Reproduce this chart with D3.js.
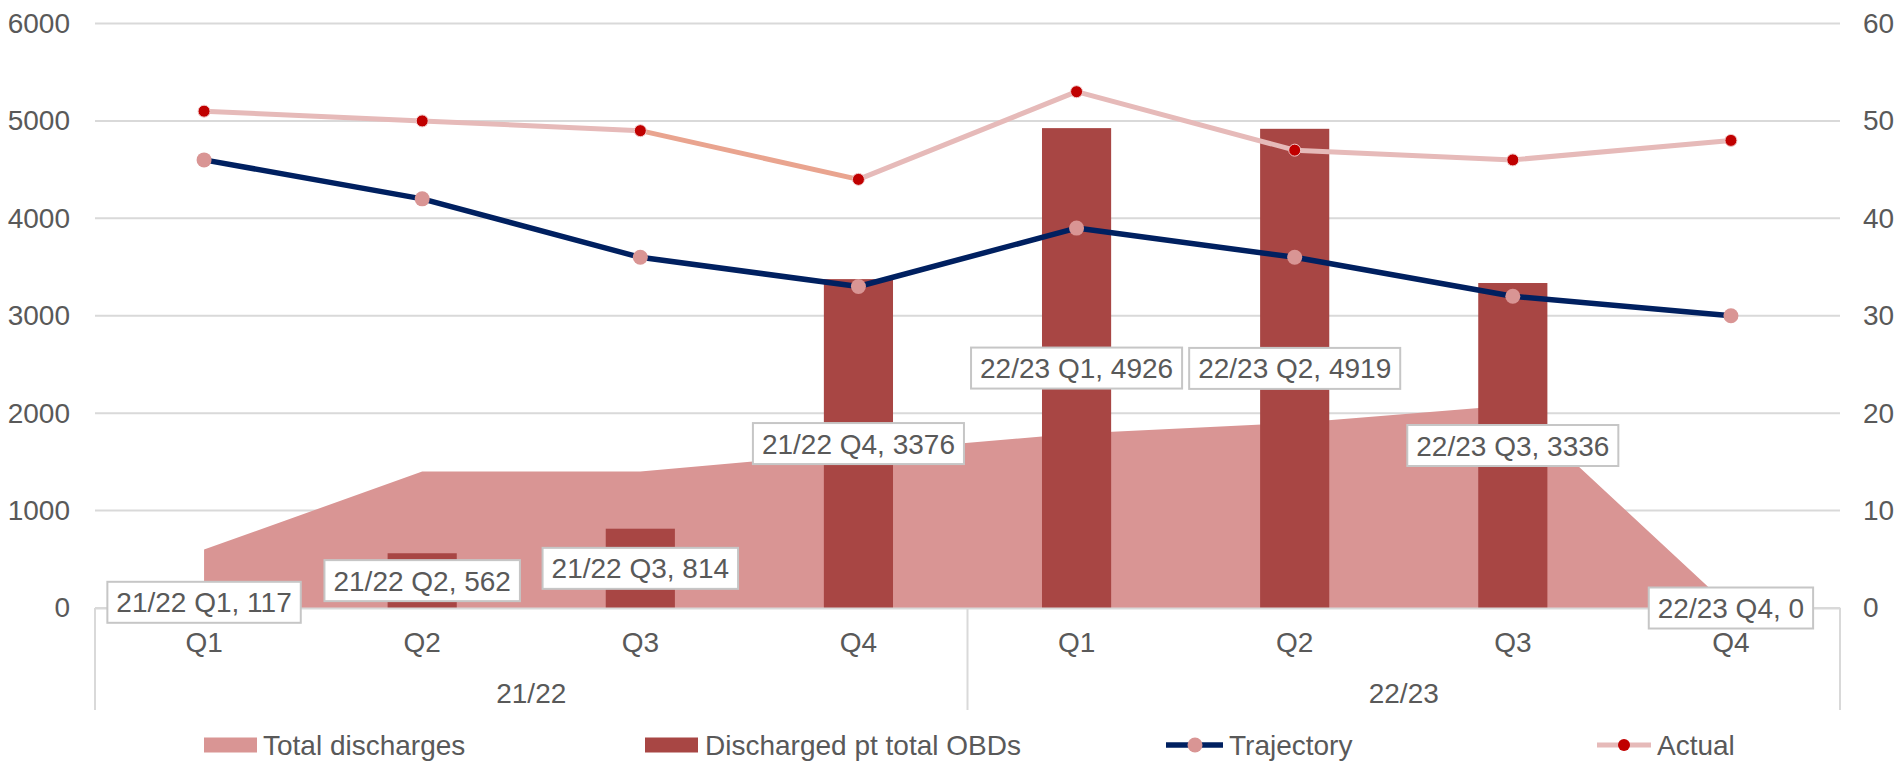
<!DOCTYPE html>
<html>
<head>
<meta charset="utf-8">
<script src="https://cdn.jsdelivr.net/npm/d3@7"></script>
<style>
  body { margin: 0; background: #fff; }
  svg text { font-family: "Liberation Sans", Arial, sans-serif; fill: #595959; }
</style>
</head>
<body>
<script>
var years = ["21/22", "22/23"];
var quarters = ["Q1", "Q2", "Q3", "Q4"];
var totalDischarges = [600, 1400, 1400, 1600, 1790, 1900, 2080, 0];
var dischargedOBDs = [117, 562, 814, 3376, 4926, 4919, 3336, 0];
var trajectory = [46, 42, 36, 33, 39, 36, 32, 30];
var actual = [51, 50, 49, 44, 53, 47, 46, 48];
var leftTicks = [0, 1000, 2000, 3000, 4000, 5000, 6000];
var rightTicks = [0, 10, 20, 30, 40, 50, 60];
var seriesNames = ["Total discharges", "Discharged pt total OBDs", "Trajectory", "Actual"];

var width = 1903,
    height = 765,
    plotLeft = 95,
    plotRight = 1840,
    plotTop = 23.5,
    plotBottom = 608;

var categories = [];
years.forEach(function(y) {
  quarters.forEach(function(q) { categories.push({year: y, q: q, key: y + " " + q}); });
});

var areaColor = "#D99594",
    barColor = "#A84644",
    navy = "#002060",
    actualLine = "#E6BAB9",
    actualAlt = "#E9A48F",
    actualDot = "#C00000",
    grid = "#D9D9D9";

var svg = d3.select("body").append("svg")
    .attr("width", width)
    .attr("height", height);

var x = d3.scaleBand()
    .domain(categories.map(function(d) { return d.key; }))
    .range([plotLeft, plotRight])
    .padding(0);

var xYear = d3.scaleBand()
    .domain(years)
    .range([plotLeft, plotRight]);

var yLeft = d3.scaleLinear().domain([0, 6000]).range([plotBottom, plotTop]);
var yRight = d3.scaleLinear().domain([0, 60]).range([plotBottom, plotTop]);

var cx = function(i) { return x(categories[i].key) + x.bandwidth() / 2; };
var barW = x.bandwidth() * 0.317;

// gridlines
svg.append("g")
  .selectAll("line")
  .data(leftTicks)
  .enter().append("line")
    .attr("x1", plotLeft)
    .attr("x2", plotRight)
    .attr("y1", function(d) { return yLeft(d); })
    .attr("y2", function(d) { return yLeft(d); })
    .attr("stroke", grid)
    .attr("stroke-width", 2);

var axL = svg.append("g")
    .attr("transform", "translate(" + plotLeft + ",0)")
    .call(d3.axisLeft(yLeft).tickValues(leftTicks).tickSize(0).tickPadding(25).tickFormat(d3.format("d")));
var axR = svg.append("g")
    .attr("transform", "translate(" + plotRight + ",0)")
    .call(d3.axisRight(yRight).tickValues(rightTicks).tickSize(0).tickPadding(23).tickFormat(d3.format("d")));
[axL, axR].forEach(function(a) {
  a.select(".domain").remove();
  a.selectAll("text").style("font-size", "28px").attr("fill", "#595959");
});

// area
var area = d3.area()
    .x(function(d, i) { return cx(i); })
    .y0(yLeft(0))
    .y1(function(d) { return yLeft(d); });

svg.append("path")
    .datum(totalDischarges)
    .attr("d", area)
    .attr("fill", areaColor);

// bars
svg.append("g")
  .selectAll("rect")
  .data(dischargedOBDs)
  .enter().append("rect")
    .attr("x", function(d, i) { return cx(i) - barW / 2; })
    .attr("width", barW)
    .attr("y", function(d) { return yLeft(d); })
    .attr("height", function(d) { return yLeft(0) - yLeft(d); })
    .attr("fill", barColor);

// category axis
var axX = svg.append("g")
    .attr("transform", "translate(0," + plotBottom + ")")
    .call(d3.axisBottom(x).tickSize(0).tickPadding(24).tickFormat(function(k) { return k.split(" ")[1]; }));
axX.select(".domain").attr("stroke", grid).attr("stroke-width", 2);
axX.selectAll("text").style("font-size", "28px").attr("fill", "#595959");

svg.append("g")
  .selectAll("line")
  .data([plotLeft, xYear(years[1]), plotRight])
  .enter().append("line")
    .attr("x1", function(d) { return d; })
    .attr("x2", function(d) { return d; })
    .attr("y1", plotBottom)
    .attr("y2", 710)
    .attr("stroke", grid)
    .attr("stroke-width", 2);

svg.append("g")
  .selectAll("text")
  .data(years)
  .enter().append("text")
    .attr("x", function(d) { return xYear(d) + xYear.bandwidth() / 2; })
    .attr("y", 703)
    .attr("text-anchor", "middle")
    .style("font-size", "28px")
    .text(function(d) { return d; });

// lines
var line = d3.line()
    .x(function(d, i) { return cx(i); })
    .y(function(d) { return yRight(d); });

svg.append("path")
    .datum(trajectory)
    .attr("d", line)
    .attr("fill", "none")
    .attr("stroke", navy)
    .attr("stroke-width", 5.5)
    .attr("stroke-linejoin", "round");

svg.append("g")
  .selectAll("circle")
  .data(trajectory)
  .enter().append("circle")
    .attr("cx", function(d, i) { return cx(i); })
    .attr("cy", function(d) { return yRight(d); })
    .attr("r", 7.5)
    .attr("fill", areaColor);

var segs = d3.pairs(actual.map(function(d, i) { return [cx(i), yRight(d)]; }));
svg.append("g")
  .selectAll("line")
  .data(segs)
  .enter().append("line")
    .attr("x1", function(d) { return d[0][0]; })
    .attr("y1", function(d) { return d[0][1]; })
    .attr("x2", function(d) { return d[1][0]; })
    .attr("y2", function(d) { return d[1][1]; })
    .attr("stroke", function(d, i) { return i === 2 ? actualAlt : actualLine; })
    .attr("stroke-width", 5)
    .attr("stroke-linecap", "round");

svg.append("g")
  .selectAll("circle")
  .data(actual)
  .enter().append("circle")
    .attr("cx", function(d, i) { return cx(i); })
    .attr("cy", function(d) { return yRight(d); })
    .attr("r", 6)
    .attr("fill", actualDot)
    .attr("stroke", "#F0C8C8")
    .attr("stroke-width", 1);

// data labels
var lab = svg.append("g")
  .selectAll("g")
  .data(dischargedOBDs)
  .enter().append("g")
    .attr("transform", function(d, i) { return "translate(" + cx(i) + "," + yLeft(d / 2) + ")"; });

lab.append("rect");
lab.append("text")
    .attr("text-anchor", "middle")
    .attr("dy", "0.36em")
    .style("font-size", "28px")
    .text(function(d, i) { return categories[i].key + ", " + d; });

lab.each(function() {
  var g = d3.select(this);
  var w = g.select("text").node().getComputedTextLength() + 18;
  g.select("rect")
    .attr("x", -w / 2)
    .attr("y", -20.5)
    .attr("width", w)
    .attr("height", 41)
    .attr("fill", "#fff")
    .attr("stroke", "#C6C6C6")
    .attr("stroke-width", 2);
});

// legend
var leg = svg.append("g");
var legY = 745;

leg.append("rect").attr("x", 204).attr("y", legY - 7.5).attr("width", 53).attr("height", 15).attr("fill", areaColor);
leg.append("rect").attr("x", 645).attr("y", legY - 7.5).attr("width", 53).attr("height", 15).attr("fill", barColor);
leg.append("line").attr("x1", 1166).attr("x2", 1223).attr("y1", legY).attr("y2", legY)
    .attr("stroke", navy).attr("stroke-width", 5.5);
leg.append("circle").attr("cx", 1195).attr("cy", legY).attr("r", 7.5).attr("fill", areaColor);
leg.append("line").attr("x1", 1597).attr("x2", 1651).attr("y1", legY).attr("y2", legY)
    .attr("stroke", actualLine).attr("stroke-width", 5);
leg.append("circle").attr("cx", 1624).attr("cy", legY).attr("r", 6).attr("fill", actualDot);

leg.selectAll("text")
  .data(seriesNames)
  .enter().append("text")
    .attr("x", function(d, i) { return [263, 705, 1229, 1657][i]; })
    .attr("y", legY)
    .attr("dy", "0.36em")
    .style("font-size", "28px")
    .text(function(d) { return d; });
</script>
</body>
</html>
